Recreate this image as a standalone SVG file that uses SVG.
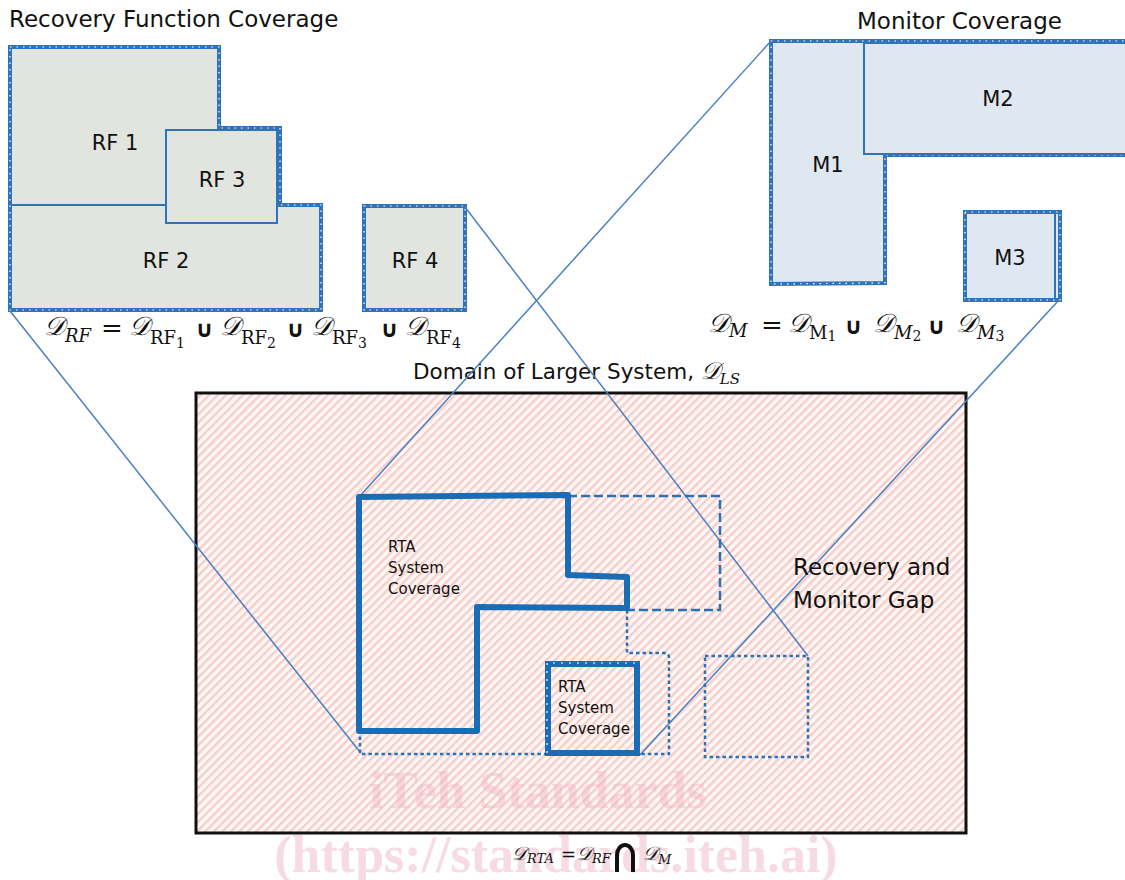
<svg xmlns="http://www.w3.org/2000/svg" width="1125" height="880" viewBox="0 0 1125 880">
<style>
.lbl{font-family:"DejaVu Sans","Liberation Sans",sans-serif;fill:#111}
.ttl{font-size:23px}
.box{font-size:21px;text-anchor:middle}
.rta{font-size:15px}
.gap{font-size:23px}
.m{font-family:"DejaVu Serif","Liberation Serif",serif;fill:#111}
.D{font-size:26px;font-style:italic}
.si{font-size:18px;font-style:italic}
.su{font-size:18px}
.sd{font-size:14px}
.un{font-family:"DejaVu Sans","Liberation Sans",sans-serif;font-weight:bold;font-size:23px;fill:#111}
.rfout{fill:#e2e5df;stroke:#2f74ba;stroke-width:4}
.mout{fill:#dfe7f0;stroke:#2f74ba;stroke-width:4}
.tick{fill:none;stroke:#fff;stroke-width:1.2;stroke-dasharray:1.5 5}
.thin{fill:none;stroke:#2f74ba;stroke-width:2}
.proj{fill:none;stroke:#4a7fc6;stroke-width:1.5}
.thick{fill:none;stroke:#1a6db4;stroke-width:6;stroke-linejoin:round}
.dash{fill:none;stroke:#2a72b8;stroke-width:2.5;stroke-dasharray:9 4}
.dot{fill:none;stroke:#2a72b8;stroke-width:2.5;stroke-dasharray:3.5 3}
.wm{font-family:"Liberation Serif",serif;font-weight:bold;font-size:52px;fill:#f0b9c6;opacity:0.5}
</style>
<defs>
<pattern id="hatch" width="6" height="6" patternUnits="userSpaceOnUse" patternTransform="rotate(45)">
<rect width="6" height="6" fill="#fff8f7"/>
<rect width="2.4" height="6" fill="#f7cdc8"/>
</pattern>
</defs>
<rect width="1125" height="880" fill="#fff"/>

<g id="domain">
<rect x="196" y="393" width="770" height="440" fill="url(#hatch)" stroke="#111" stroke-width="3"/>
<text class="lbl" x="413" y="379" font-size="21.5">Domain of Larger System, <tspan class="m" font-size="24" font-style="italic">𝒟</tspan><tspan class="m" font-size="15" font-style="italic" dy="5">LS</tspan></text>
</g>

<g id="watermark">
<text class="wm" x="538" y="808" text-anchor="middle">iTeh Standards</text>
<text class="wm" x="556" y="872" text-anchor="middle">(https://standards.iteh.ai)</text>
</g>

<g id="rf-coverage">
<text class="lbl ttl" x="9" y="27">Recovery Function Coverage</text>
<polygon class="rfout" points="10,47 219,47 219,128 280,128 280,205 321,205 321,310 10,310"/>
<polygon class="tick" points="10,47 219,47 219,128 280,128 280,205 321,205 321,310 10,310"/>
<line class="thin" x1="12" y1="205" x2="166" y2="205"/>
<rect x="166" y="130" width="111" height="93" fill="#e2e5df" stroke="#2f74ba" stroke-width="2"/>
<text class="lbl box" x="115" y="150">RF 1</text>
<text class="lbl box" x="222" y="187">RF 3</text>
<text class="lbl box" x="166" y="268">RF 2</text>
</g>
<g id="rf4">
<rect class="rfout" x="364" y="206" width="101" height="104"/>
<rect class="tick" x="364" y="206" width="101" height="104"/>
<text class="lbl box" x="415" y="268">RF 4</text>
</g>
<g id="rf-formula">
<text class="m" x="44" y="335"><tspan class="D">𝒟</tspan><tspan class="si" dy="7">RF</tspan></text>
<text class="m" x="101" y="337" font-size="26">=</text>
<text class="m" x="129" y="335"><tspan class="D">𝒟</tspan><tspan class="su" dy="9">RF</tspan><tspan class="sd" dy="4">1</tspan></text>
<text class="un" x="195" y="337">∪</text>
<text class="m" x="220" y="335"><tspan class="D">𝒟</tspan><tspan class="su" dy="9">RF</tspan><tspan class="sd" dy="4">2</tspan></text>
<text class="un" x="286" y="337">∪</text>
<text class="m" x="311" y="335"><tspan class="D">𝒟</tspan><tspan class="su" dy="9">RF</tspan><tspan class="sd" dy="4">3</tspan></text>
<text class="un" x="380" y="337">∪</text>
<text class="m" x="405" y="335"><tspan class="D">𝒟</tspan><tspan class="su" dy="9">RF</tspan><tspan class="sd" dy="4">4</tspan></text>
</g>

<g id="monitor-coverage">
<text class="lbl ttl" x="857" y="29">Monitor Coverage</text>
<polygon class="mout" points="771,41 1130,41 1130,155 885,155 885,283 771,284"/>
<polygon class="tick" points="771,41 1130,41 1130,155 885,155 885,283 771,284"/>
<rect x="864" y="43" width="266" height="111" fill="#dfe7f0" stroke="#2f74ba" stroke-width="2"/>
<text class="lbl box" x="828" y="172">M1</text>
<text class="lbl box" x="998" y="106">M2</text>
</g>
<g id="m3">
<rect class="mout" x="965" y="212" width="95" height="88"/>
<rect class="tick" x="965" y="212" width="95" height="88"/>
<line class="thin" x1="1055" y1="213" x2="1055" y2="298"/>
<text class="lbl box" x="1010" y="265">M3</text>
</g>
<g id="m-formula">
<text class="m" x="708" y="332"><tspan class="D">𝒟</tspan><tspan class="si" dy="5">M</tspan></text>
<text class="m" x="761" y="334" font-size="26">=</text>
<text class="m" x="788" y="332"><tspan class="D">𝒟</tspan><tspan class="su" dy="7">M</tspan><tspan class="sd" dy="2">1</tspan></text>
<text class="un" x="844" y="334">∪</text>
<text class="m" x="873" y="332"><tspan class="D">𝒟</tspan><tspan class="si" dy="7">M</tspan><tspan class="sd" dy="2">2</tspan></text>
<text class="un" x="927" y="334">∪</text>
<text class="m" x="956" y="332"><tspan class="D">𝒟</tspan><tspan class="si" dy="7">M</tspan><tspan class="sd" dy="2">3</tspan></text>
</g>

<g id="connectors">
<line class="proj" x1="10" y1="311" x2="360" y2="752"/>
<line class="proj" x1="465" y1="207" x2="808" y2="656"/>
<line class="proj" x1="771" y1="41" x2="359" y2="497"/>
<line class="proj" x1="1059" y1="300" x2="640" y2="755"/>
</g>

<g id="monitor-projection">
<polyline class="dash" points="568,496 720,496 720,610 627,610"/>
</g>
<g id="rf-projection">
<path class="dot" d="M627,610 V653 H664 Q669,653 669,658 V754 H360 V731"/>
</g>
<g id="gap-square">
<rect class="dot" x="705" y="656" width="103" height="101"/>
</g>
<g id="rta-main">
<polygon class="thick" points="359,497 568,495 568,575 627,577 627,608 477,607 477,731 359,731"/>
<text class="lbl rta" x="388" y="552">RTA</text>
<text class="lbl rta" x="388" y="573">System</text>
<text class="lbl rta" x="388" y="594">Coverage</text>
</g>
<g id="rta-small">
<rect x="548" y="664" width="89" height="89" fill="none" stroke="#1a6db4" stroke-width="6"/>
<polyline points="547,753 547,663 637,663" fill="none" stroke="#fff" stroke-width="1.2" stroke-dasharray="2 6"/>
<text class="lbl rta" x="558" y="692">RTA</text>
<text class="lbl rta" x="558" y="713">System</text>
<text class="lbl rta" x="558" y="734">Coverage</text>
</g>
<g id="gap-label">
<text class="lbl gap" x="793" y="575">Recovery and</text>
<text class="lbl gap" x="793" y="608">Monitor Gap</text>
</g>

<g id="rta-formula">
<text class="m" x="512" y="860"><tspan font-size="19" font-style="italic">𝒟</tspan><tspan font-size="13" font-style="italic" dy="3">RTA</tspan></text>
<text class="m" x="561" y="861" font-size="18">=</text>
<text class="m" x="577" y="860"><tspan font-size="19" font-style="italic">𝒟</tspan><tspan font-size="13" font-style="italic" dy="3">RF</tspan></text>
<path d="M617,872 V855 A8,10 0 0 1 633,855 V872" fill="none" stroke="#111" stroke-width="4"/>
<text class="m" x="643" y="860"><tspan font-size="19" font-style="italic">𝒟</tspan><tspan font-size="13" font-style="italic" dy="4">M</tspan></text>
</g>
</svg>
